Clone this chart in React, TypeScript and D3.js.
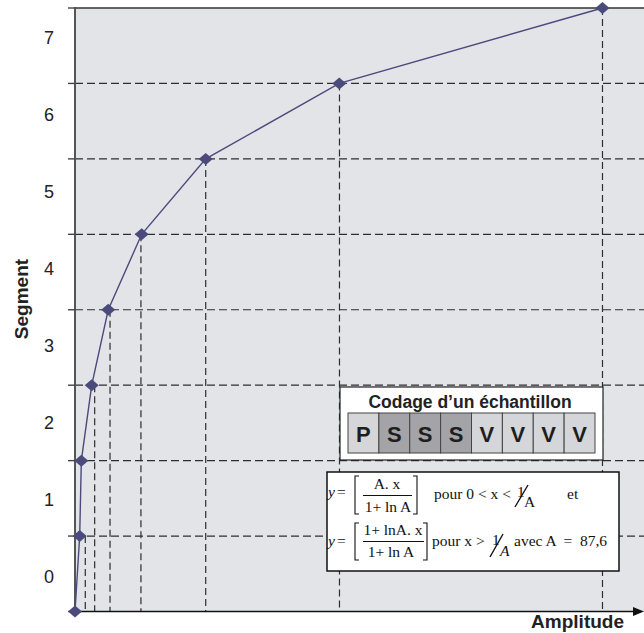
import React from "react";
import * as d3 from "d3";

// ---- data ----
const segmentLevels = [0, 1, 2, 3, 4, 5, 6, 7, 8];
const amplitudes = [0, 0.0089, 0.012, 0.0317, 0.063, 0.1264, 0.2478, 0.501, 1.0];
const dropAmplitudes = [0.0195, 0.0373, 0.0664, 0.125, 0.2478, 0.5014, 1.0];
const dropLevels = [1, 3, 4, 5, 6, 7, 8];
const gridLevels = [1, 2, 3, 4, 5, 6, 7];
const tickLevels = [0, 1, 2, 3, 4, 5, 6, 7, 8];
const segmentLabels = ["0", "1", "2", "3", "4", "5", "6", "7"];
const codeBits = ["P", "S", "S", "S", "V", "V", "V", "V"];
const bitColors: Record<string, string> = { P: "#d6d6d8", S: "#a4a4a8", V: "#d5d6d9" };

const W = 644;
const H = 633;
const SANS = "'Liberation Sans', Arial, sans-serif";
const SERIF = "'Liberation Serif', 'Times New Roman', serif";

export default function App() {
  const x = d3.scaleLinear().domain([0, 1.0787]).range([75, 644]);
  const y = d3.scaleLinear().domain([0, 8]).range([611.5, 8]);
  // labels are spaced slightly wider than the grid in the reference
  const labelY = d3.scaleLinear().domain([0, 7]).range([577, 38]);
  const pts = amplitudes.map((a, i) => [x(a), y(segmentLevels[i])] as [number, number]);
  const line = d3.line<[number, number]>()(pts) || "";
  const lineColor = "#4b4a7c";
  const gridColor = "#2e2e2e";

  const cellX0 = 348;
  const cellW = (595 - 348) / codeBits.length;

  const bracket = (xx: number, y0: number, y1: number, dir: number) =>
    `M${xx + 4 * dir},${y0} L${xx},${y0} L${xx},${y1} L${xx + 4 * dir},${y1}`;

  return (
    <svg
      width={W}
      height={H}
      style={{ position: "absolute", left: 0, top: 0, background: "#fff" }}
    >
      {/* plot background */}
      <rect x={x(0)} y={y(8)} width={W - x(0)} height={y(0) - y(8)} fill="#e3e4e8" />

      {/* horizontal dashed grid */}
      {gridLevels.map((l) => (
        <line
          key={"g" + l}
          x1={x(0)}
          x2={W}
          y1={y(l)}
          y2={y(l)}
          stroke={gridColor}
          strokeWidth={1.2}
          strokeDasharray="8,4"
        />
      ))}

      {/* vertical drop lines */}
      {dropAmplitudes.map((a, i) => (
        <line
          key={"d" + i}
          x1={x(a)}
          x2={x(a)}
          y1={y(dropLevels[i])}
          y2={y(0)}
          stroke={gridColor}
          strokeWidth={1.2}
          strokeDasharray="7,4"
        />
      ))}

      {/* top border */}
      <line x1={x(0)} x2={W} y1={y(8)} y2={y(8)} stroke="#333" strokeWidth={1.5} />

      {/* y axis */}
      <line x1={x(0)} x2={x(0)} y1={y(8) - 1} y2={y(0) + 1} stroke="#555" strokeWidth={2} />
      {tickLevels.map((l) => (
        <line key={"t" + l} x1={68} x2={x(0)} y1={y(l)} y2={y(l)} stroke="#444" strokeWidth={1.4} />
      ))}
      {segmentLabels.map((s, i) => (
        <text
          key={"l" + s}
          x={54}
          y={labelY(i)}
          textAnchor="end"
          dominantBaseline="central"
          fontFamily={SANS}
          fontSize={18}
          fill="#222"
        >
          {s}
        </text>
      ))}
      <text
        transform={`translate(28,299) rotate(-90)`}
        textAnchor="middle"
        fontFamily={SANS}
        fontWeight="bold"
        fontSize={19}
        fill="#222"
      >
        Segment
      </text>

      {/* x axis with arrow */}
      <line x1={x(0)} x2={636} y1={y(0)} y2={y(0)} stroke="#111" strokeWidth={1.5} />
      <polygon points={`633,${y(0) - 4.5} 644,${y(0)} 633,${y(0) + 4.5}`} fill="#111" />
      <text
        x={624}
        y={628}
        textAnchor="end"
        fontFamily={SANS}
        fontWeight="bold"
        fontSize={19}
        fill="#222"
      >
        Amplitude
      </text>

      {/* curve */}
      <path d={line} fill="none" stroke={lineColor} strokeWidth={1.4} />
      {pts.map(([px, py], i) => (
        <path
          key={"m" + i}
          d={`M${px},${py - 6} L${px + 7},${py} L${px},${py + 6} L${px - 7},${py} Z`}
          fill={lineColor}
        />
      ))}

      {/* Codage box */}
      <rect x={340} y={387} width={263} height={73} fill="#fff" stroke="#222" strokeWidth={1.2} />
      <text
        x={470}
        y={408}
        textAnchor="middle"
        fontFamily={SANS}
        fontWeight="bold"
        fontSize={17.5}
        fill="#222"
      >
        Codage d’un échantillon
      </text>
      {codeBits.map((b, i) => (
        <g key={"c" + i}>
          <rect
            x={cellX0 + i * cellW}
            y={413}
            width={cellW}
            height={40}
            fill={bitColors[b]}
            stroke="#444"
            strokeWidth={1}
          />
          <text
            x={cellX0 + i * cellW + cellW / 2}
            y={434}
            textAnchor="middle"
            dominantBaseline="central"
            fontFamily={SANS}
            fontWeight="bold"
            fontSize={22}
            fill="#1e1e1e"
          >
            {b}
          </text>
        </g>
      ))}

      {/* Formula box */}
      <rect x={327} y={472} width={292} height={99} fill="#fff" stroke="#111" strokeWidth={1.5} />
      <g fontFamily={SERIF} fontSize={15.5} fill="#111">
        {/* line 1 */}
        <text x={328} y={497} fontStyle="italic">y</text>
        <text x={337} y={497}>=</text>
        <path d={bracket(355, 476, 514, 1)} fill="none" stroke="#111" strokeWidth={1.1} />
        <text x={387} y={489} textAnchor="middle">A. x</text>
        <line x1={363} x2={412} y1={495.5} y2={495.5} stroke="#111" strokeWidth={1} />
        <text x={388} y={512} textAnchor="middle">1+ ln A</text>
        <path d={bracket(417, 476, 514, -1)} fill="none" stroke="#111" strokeWidth={1.1} />
        <text x={434} y={499}>pour 0 &lt; x &lt;</text>
        <text x={517} y={497}>1</text>
        <line x1={515} x2={528} y1={507} y2={485} stroke="#111" strokeWidth={1.4} />
        <text x={524} y={507}>A</text>
        <text x={567} y={499}>et</text>

        {/* line 2 */}
        <text x={328} y={546} fontStyle="italic">y</text>
        <text x={337} y={546}>=</text>
        <path d={bracket(355, 523, 560, 1)} fill="none" stroke="#111" strokeWidth={1.1} />
        <text x={393} y={535} textAnchor="middle">1+ lnA. x</text>
        <line x1={363} x2={424} y1={541.5} y2={541.5} stroke="#111" strokeWidth={1} />
        <text x={391} y={557} textAnchor="middle">1+ ln A</text>
        <path d={bracket(427, 523, 560, -1)} fill="none" stroke="#111" strokeWidth={1.1} />
        <text x={432} y={546}>pour x &gt;</text>
        <text x={492} y={545}>1</text>
        <line x1={490} x2={503} y1={557} y2={534} stroke="#111" strokeWidth={1.4} />
        <text x={500} y={556} fontStyle="italic">A</text>
        <text x={514} y={546} xmlSpace="preserve">{"avec A  =  87,6"}</text>
      </g>
    </svg>
  );
}
